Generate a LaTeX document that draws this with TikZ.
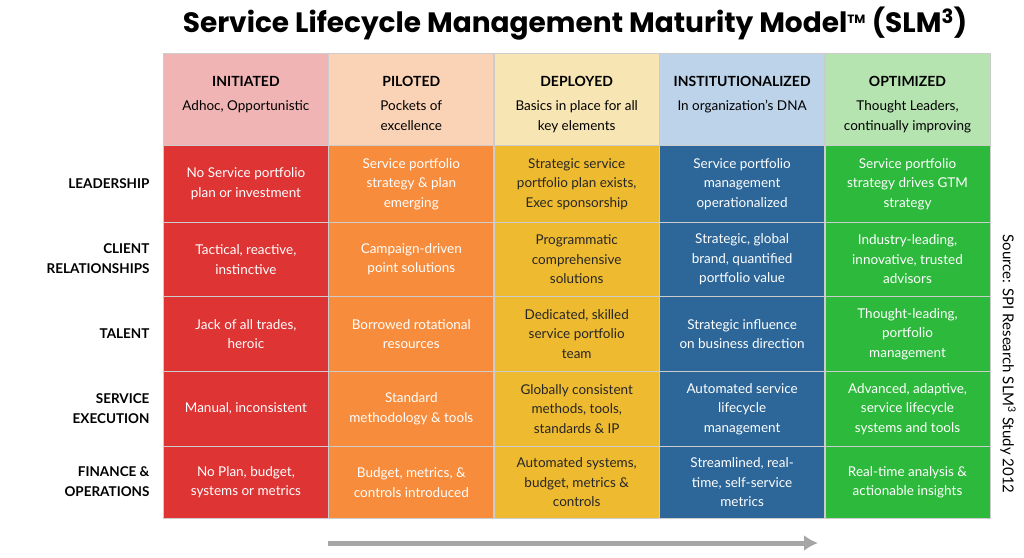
\documentclass[tikz,border=0pt]{standalone}
\usepackage{fontspec}
\usetikzlibrary{arrows.meta}
\setmainfont{Lato}
\newfontfamily\titlefont{Poppins}
\definecolor{hA}{HTML}{F0B4B4}\definecolor{hB}{HTML}{FAD3B6}\definecolor{hC}{HTML}{F8E5B4}\definecolor{hD}{HTML}{BCD3EA}\definecolor{hE}{HTML}{B5E4B0}
\definecolor{cA}{HTML}{DE3434}\definecolor{cB}{HTML}{F78C3C}\definecolor{cC}{HTML}{EEBA30}\definecolor{cD}{HTML}{2D6698}\definecolor{cE}{HTML}{2DBA3C}
\tikzset{cell/.style={draw=gray!40,line width=0.8pt,minimum width=165pt,anchor=north west,align=center,text width=150pt,font=\fontsize{13.5}{19.5}\selectfont,inner sep=0pt},
 lab/.style={align=right,anchor=east,font=\bfseries\fontsize{13.5}{20}\selectfont}}
\begin{document}
\begin{tikzpicture}[x=1pt,y=-1pt]
\useasboundingbox (0,0) rectangle (1024,557);
\node[font=\titlefont\bfseries\fontsize{28}{30}\selectfont] (title) at (575,24) {Service Lifecycle Management Maturity Model\textsuperscript{\fontsize{12}{12}\selectfont TM} (SLM\textsuperscript{3})};
% headers
\foreach \i/\c/\t/\s in {0/hA/INITIATED/{Adhoc, Opportunistic\\~},1/hB/PILOTED/{Pockets of\\excellence},2/hC/DEPLOYED/{Basics in place for all\\key elements},3/hD/INSTITUTIONALIZED/{In organization's DNA\\~},4/hE/OPTIMIZED/{Thought Leaders,\\continually improving}}{
 \pgfmathsetmacro\xx{163+165.4*\i}
 \node[cell,fill=\c,minimum height=92pt] (h\i) at (\xx,53) {};
 \node[align=center,font=\bfseries\fontsize{14}{18}\selectfont] (ht\i) at ([yshift=-28pt]h\i.north) {\t};
 \node[align=center,anchor=north,font=\fontsize{13.5}{20}\selectfont] (hs\i) at ([yshift=-44pt]h\i.north) {\s};
}
\newcommand\row[8]{% y, h, label, t0..t4
 \foreach \i/\c/\tc/\t in {0/cA/white/{#4},1/cB/white/{#5},2/cC/black!85/{#6},3/cD/white/{#7},4/cE/white/{#8}}{
  \pgfmathsetmacro\xx{163+165.4*\i}
  \node[cell,fill=\c,text=\tc,minimum height=#2pt] (c\i) at (\xx,#1) {};
  \node[align=center,text=\tc,font=\fontsize{13.5}{19.5}\selectfont] at (c\i.center) {\t};
 }
 \node[lab] at (153,#1+#2/2) {#3};
}
\row{145}{77}{LEADERSHIP}{No Service portfolio\\plan or investment}{Service portfolio\\strategy \& plan\\emerging}{Strategic service\\portfolio plan exists,\\Exec sponsorship}{Service portfolio\\management\\operationalized}{Service portfolio\\strategy drives GTM\\strategy}
\row{222}{74}{CLIENT\\RELATIONSHIPS}{Tactical, reactive,\\instinctive}{Campaign-driven\\point solutions}{Programmatic\\comprehensive\\solutions}{Strategic, global\\brand, quantified\\portfolio value}{Industry-leading,\\innovative, trusted\\advisors}
\row{296}{75}{TALENT}{Jack of all trades,\\heroic}{Borrowed rotational\\resources}{Dedicated, skilled\\service portfolio\\team}{Strategic influence\\on business direction}{Thought-leading,\\portfolio\\management}
\row{371}{75}{SERVICE\\EXECUTION}{Manual, inconsistent}{Standard\\methodology \& tools}{Globally consistent\\methods, tools,\\standards \& IP}{Automated service\\lifecycle\\management}{Advanced, adaptive,\\service lifecycle\\systems and tools}
\row{446}{72}{FINANCE \&\\OPERATIONS}{No Plan, budget,\\systems or metrics}{Budget, metrics, \&\\controls introduced}{Automated systems,\\budget, metrics \&\\controls}{Streamlined, real-\\time, self-service\\metrics}{Real-time analysis \&\\actionable insights}
\coordinate (a1) at (328,543); \coordinate (a2) at (818,543);
\draw[gray!70,line width=5pt,-{Latex[length=14pt,width=16pt]}] (a1) -- (a2);
\node[rotate=-90,font=\fontsize{15}{18}\selectfont] (src) at (1008,364) {Source: SPI Research SLM\textsuperscript{3} Study 2012};
\end{tikzpicture}
\end{document}
